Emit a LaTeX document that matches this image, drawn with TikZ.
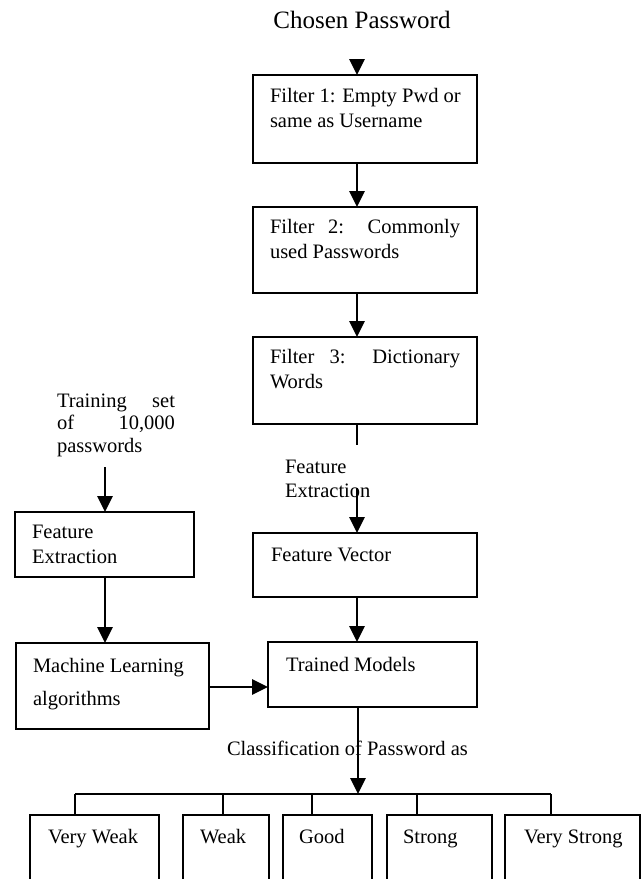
\documentclass[tikz,border=0pt]{standalone}
\usepackage{fontspec}
\setmainfont{Liberation Serif}
\usetikzlibrary{arrows.meta,calc}
\begin{document}
\begin{tikzpicture}[x=1pt,y=-1pt,
  box/.style={draw,line width=2.2pt,rectangle,inner sep=0pt,outer sep=0pt,anchor=north west},
  txt/.style={inner sep=0pt,outer sep=0pt,anchor=base west,font=\fontsize{20.5}{25}\selectfont},
  big/.style={inner sep=0pt,outer sep=0pt,anchor=base,font=\fontsize{25}{30}\selectfont},
  arr/.style={line width=2.8pt,-{Triangle[width=15pt,length=16pt]}},
  plain/.style={line width=2.8pt},
  thin/.style={line width=1.6pt}]
\fill[white] (0,0) rectangle (642,879);
\useasboundingbox (0,0) rectangle (642,879);
\clip (0,0) rectangle (642,879);

\coordinate (spine) at (357,0);
\coordinate (lspine) at (105,0);

% title
\node[big] (cp) at (362,28) {Chosen Password};
\coordinate (cpt) at (357,60);

% filter boxes
\node[box,minimum width=224pt,minimum height=88pt] (f1) at (253,75) {};
\node[txt] (f1a) at (270,102) {Filter 1: Empty Pwd or};
\node[txt] (f1b) at (270,127) {same as Username};

\node[box,minimum width=224pt,minimum height=86pt] (f2) at (253,207) {};
\node[txt] (f2a) at (270,233) {\makebox[190pt][s]{Filter 2: Commonly}};
\node[txt] (f2b) at (270,258) {used Passwords};

\node[box,minimum width=224pt,minimum height=87pt] (f3) at (253,337) {};
\node[txt] (f3a) at (270,363) {\makebox[190pt][s]{Filter 3: Dictionary}};
\node[txt] (f3b) at (270,388) {Words};
\coordinate (f3end) at (357,445);

% feature extraction label
\node[txt] (fxa) at (285,473) {Feature};
\node[txt] (fxb) at (285,497) {Extraction};
\coordinate (fxs) at (357,488);

% feature vector
\node[box,minimum width=224pt,minimum height=64pt] (fv) at (253,533) {};
\node[txt] (fvt) at (271,561) {Feature Vector};

% trained models
\node[box,minimum width=209pt,minimum height=65pt] (tm) at (268,642) {};
\node[txt] (tmt) at (286,671) {Trained Models};

% training set
\node[txt] (tra) at (57,407) {\makebox[118pt][s]{Training set}};
\node[txt] (trb) at (57,429) {\makebox[118pt][s]{of 10,000}};
\node[txt] (trc) at (57,452) {passwords};
\coordinate (trs) at (105,467);

\node[box,minimum width=179pt,minimum height=65pt] (fe) at (15,512) {};
\node[txt] (fea) at (32,538) {Feature};
\node[txt] (feb) at (32,563) {Extraction};

\node[box,minimum width=193pt,minimum height=86pt] (ml) at (16,643) {};
\node[txt] (mla) at (33,672) {Machine Learning};
\node[txt] (mlb) at (33,705) {algorithms};

% classification
\node[txt] (cl) at (227,755) {Classification of Password as};
\coordinate (bus) at (358,794);
\coordinate (bl) at (75,794);
\coordinate (br) at (551,794);
\coordinate (d1) at (75,794);
\coordinate (d2) at (223,794);
\coordinate (d3) at (312,794);
\coordinate (d4) at (417,794);
\coordinate (d5) at (551,794);

% leaves
\node[box,minimum width=129pt,minimum height=100pt] (vw) at (30,815) {};
\node[box,minimum width=86pt,minimum height=100pt] (wk) at (183,815) {};
\node[box,minimum width=89pt,minimum height=100pt] (gd) at (283,815) {};
\node[box,minimum width=105pt,minimum height=100pt] (st) at (387,815) {};
\node[box,minimum width=135pt,minimum height=100pt] (vs) at (505,815) {};
\node[txt] (vwt) at (48,843) {Very Weak};
\node[txt] (wkt) at (200,843) {Weak};
\node[txt] (gdt) at (299,843) {Good};
\node[txt] (stt) at (403,843) {Strong};
\node[txt] (vst) at (524,843) {Very Strong};

% connectors
\draw[arr] (cpt) -- (f1.north -| spine);
\draw[arr] (f1.south -| spine) -- (f2.north -| spine);
\draw[arr] (f2.south -| spine) -- (f3.north -| spine);
\draw[plain] (f3.south -| spine) -- (f3end);
\draw[arr] (fxs) -- (fv.north -| spine);
\draw[arr] (fv.south -| spine) -- (tm.north -| spine);
\draw[arr] (trs) -- (fe.north -| lspine);
\draw[arr] (fe.south -| lspine) -- (ml.north -| lspine);
\draw[arr] (ml.east |- 0,687) -- (tm.west |- 0,687);
\draw[arr] (tm.south -| bus) -- (bus);
\draw[thin] (bl) -- (br);
\draw[thin] (d1) -- (d1 |- vw.north);
\draw[thin] (d2) -- (d2 |- wk.north);
\draw[thin] (d3) -- (d3 |- gd.north);
\draw[thin] (d4) -- (d4 |- st.north);
\draw[thin] (d5) -- (d5 |- vs.north);
\end{tikzpicture}
\end{document}
